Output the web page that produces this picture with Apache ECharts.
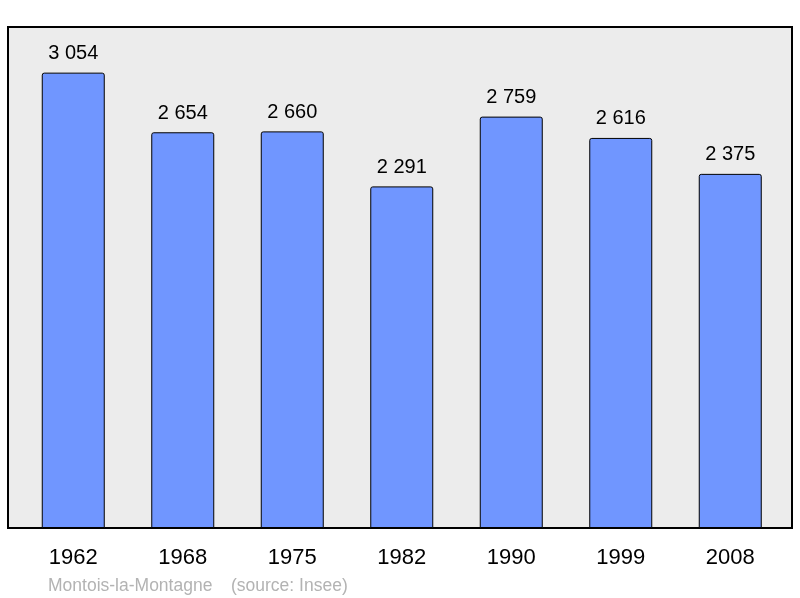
<!DOCTYPE html>
<html>
<head>
<meta charset="utf-8">
<script src="https://cdn.jsdelivr.net/npm/echarts@6/dist/echarts.min.js"></script>
<style>
  html, body { margin: 0; padding: 0; background: #fff; }
  #chart { width: 800px; height: 598px; }
</style>
</head>
<body>
<div id="chart"></div>
<script>
// population by census year
const years = ["1962", "1968", "1975", "1982", "1990", "1999", "2008"];
const population = [3054, 2654, 2660, 2291, 2759, 2616, 2375];
const yMax = 3360;

const fmt = v => String(v).replace(/\B(?=(\d{3})+(?!\d))/g, " ");
const font = "Liberation Sans, Arial, sans-serif";

const chart = echarts.init(document.getElementById("chart"));
chart.setOption({
  animation: false,
  textStyle: { fontFamily: font },
  grid: [
    // frame with grey background
    { left: 8, top: 27, width: 784, height: 501, show: true,
      backgroundColor: "#ececec", borderColor: "#000", borderWidth: 2 },
    // bars
    { left: 18.5, top: 27, width: 766.5, height: 501 }
  ],
  xAxis: [
    { gridIndex: 0, type: "category", data: years, show: false },
    { gridIndex: 1, type: "category", data: years,
      axisLine: { show: false }, axisTick: { show: false },
      axisLabel: { color: "#000", fontSize: 22, margin: 19 } }
  ],
  yAxis: [
    { gridIndex: 0, type: "value", min: 0, max: yMax, show: false },
    { gridIndex: 1, type: "value", min: 0, max: yMax, show: false }
  ],
  series: [{
    type: "bar",
    xAxisIndex: 1, yAxisIndex: 1,
    data: population,
    barWidth: 63,
    itemStyle: { color: "#7096ff", borderColor: "#000", borderWidth: 1, borderRadius: [2, 2, 0, 0] },
    label: { show: true, position: "top", distance: 9, color: "#000", fontSize: 20,
      formatter: p => fmt(p.value) }
  }],
  graphic: [
    { type: "text", left: 48, top: 577,
      style: { text: "Montois-la-Montagne", fill: "#b3b3b3", fontSize: 17.5, fontFamily: font } },
    { type: "text", left: 231, top: 577,
      style: { text: "(source: Insee)", fill: "#b3b3b3", fontSize: 17.5, fontFamily: font } }
  ]
});
</script>
</body>
</html>
